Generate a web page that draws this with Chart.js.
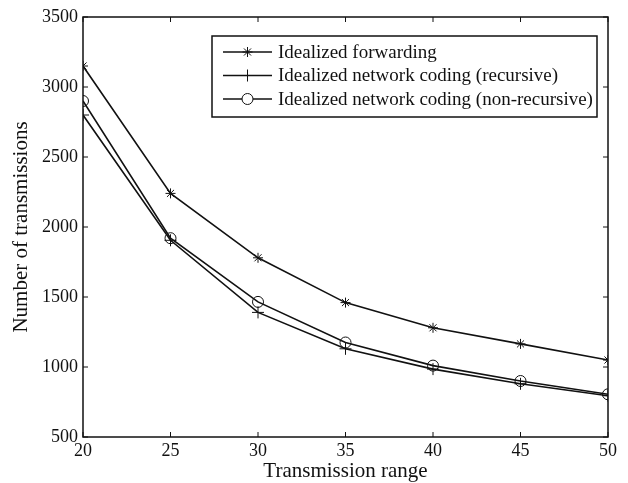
<!DOCTYPE html>
<html>
<head>
<meta charset="utf-8">
<script src="https://cdn.jsdelivr.net/npm/chart.js@4.4.1/dist/chart.umd.min.js"></script>
<style>
  html, body { margin: 0; padding: 0; background: #fff; }
  #wrap { width: 628px; height: 483px; position: relative; }
</style>
</head>
<body>
<div id="wrap"><canvas id="c" width="628" height="483"></canvas></div>
<script>
const ranges = [20, 25, 30, 35, 40, 45, 50];
const forwarding = [3150, 2240, 1780, 1460, 1280, 1165, 1050];
const recursive = [2800, 1905, 1390, 1130, 985, 880, 795];
const nonRecursive = [2900, 1920, 1465, 1175, 1010, 900, 805];
const seriesLabels = [
  'Idealized forwarding',
  'Idealized network coding (recursive)',
  'Idealized network coding (non-recursive)'
];
const xTicks = [20, 25, 30, 35, 40, 45, 50];
const yTicks = [500, 1000, 1500, 2000, 2500, 3000, 3500];
const xTitle = 'Transmission range';
const yTitle = 'Number of transmissions';

const FONT = "'Liberation Serif', 'DejaVu Serif', serif";
const INK = '#111';

function pts(vals) { return ranges.map((x, i) => ({ x: x, y: vals[i] })); }

const boxPlugin = {
  id: 'boxTicks',
  afterDraw(chart) {
    const { ctx, chartArea: a, scales } = chart;
    ctx.save();
    ctx.strokeStyle = INK;
    ctx.lineWidth = 1.5;
    ctx.strokeRect(a.left, a.top, a.right - a.left, a.bottom - a.top);
    ctx.lineWidth = 1;
    const L = 5;
    xTicks.forEach(v => {
      const px = scales.x.getPixelForValue(v);
      ctx.beginPath();
      ctx.moveTo(px, a.bottom); ctx.lineTo(px, a.bottom - L);
      ctx.moveTo(px, a.top); ctx.lineTo(px, a.top + L);
      ctx.stroke();
    });
    yTicks.forEach(v => {
      const py = scales.y.getPixelForValue(v);
      ctx.beginPath();
      ctx.moveTo(a.left, py); ctx.lineTo(a.left + L, py);
      ctx.moveTo(a.right, py); ctx.lineTo(a.right - L, py);
      ctx.stroke();
    });
    // legend
    const lx = 212, ly = 36, lw = 385, lh = 81;
    ctx.fillStyle = '#fff';
    ctx.fillRect(lx, ly, lw, lh);
    ctx.strokeStyle = INK;
    ctx.lineWidth = 1.5;
    ctx.strokeRect(lx, ly, lw, lh);
    ctx.textBaseline = 'middle';
    ctx.textAlign = 'left';
    chart.data.datasets.forEach((ds, i) => {
      const yy = ly + 16 + i * 23.5;
      ctx.strokeStyle = INK;
      ctx.lineWidth = 1.5;
      ctx.beginPath();
      ctx.moveTo(lx + 11, yy); ctx.lineTo(lx + 60, yy);
      ctx.stroke();
      ctx.fillStyle = '#fff';
      ctx.strokeStyle = INK;
      ctx.lineWidth = 1;
      Chart.helpers.drawPoint(ctx, {
        pointStyle: ds.pointStyle, radius: ds.pointRadius, borderWidth: 1
      }, lx + 35.5, yy);
      ctx.fillStyle = INK;
      ctx.font = '19px ' + FONT;
      ctx.fillText(ds.label, lx + 66, yy + 1);
    });
    ctx.restore();
  }
};

new Chart(document.getElementById('c'), {
  type: 'line',
  data: {
    datasets: [
      { label: seriesLabels[0], data: pts(forwarding), pointStyle: 'star', pointRadius: 5 },
      { label: seriesLabels[1], data: pts(recursive), pointStyle: 'cross', pointRadius: 6 },
      { label: seriesLabels[2], data: pts(nonRecursive), pointStyle: 'circle', pointRadius: 5.5 }
    ].map(d => Object.assign(d, {
      borderColor: INK, backgroundColor: 'rgba(0,0,0,0)', borderWidth: 1.6,
      pointBorderColor: INK, pointBackgroundColor: 'rgba(0,0,0,0)', pointBorderWidth: 1,
      tension: 0, fill: false
    }))
  },
  options: {
    responsive: false,
    animation: false,
    devicePixelRatio: 1,
    layout: { padding: { left: 0, right: 20, top: 17, bottom: 0 } },
    plugins: { legend: { display: false }, tooltip: { enabled: false } },
    scales: {
      x: {
        type: 'linear', min: 20, max: 50,
        afterBuildTicks: s => { s.ticks = xTicks.map(v => ({ value: v })); },
        afterFit: s => { s.height = 46; },
        grid: { display: false, drawTicks: false },
        border: { display: false },
        ticks: { color: INK, font: { family: FONT, size: 18 }, padding: 3, maxRotation: 0,
                 callback: v => String(v) },
        title: { display: true, text: xTitle, color: INK, font: { family: FONT, size: 21 }, padding: { top: 0, bottom: -1 } }
      },
      y: {
        type: 'linear', min: 500, max: 3500,
        afterBuildTicks: s => { s.ticks = yTicks.map(v => ({ value: v })); },
        afterFit: s => { s.width = 83; },
        grid: { display: false, drawTicks: false },
        border: { display: false },
        ticks: { color: INK, font: { family: FONT, size: 18 }, padding: 5,
                 callback: v => String(v) },
        title: { display: true, text: yTitle, color: INK, font: { family: FONT, size: 21 }, padding: { top: 9, bottom: 0 } }
      }
    }
  },
  plugins: [boxPlugin]
});
</script>
</body>
</html>
